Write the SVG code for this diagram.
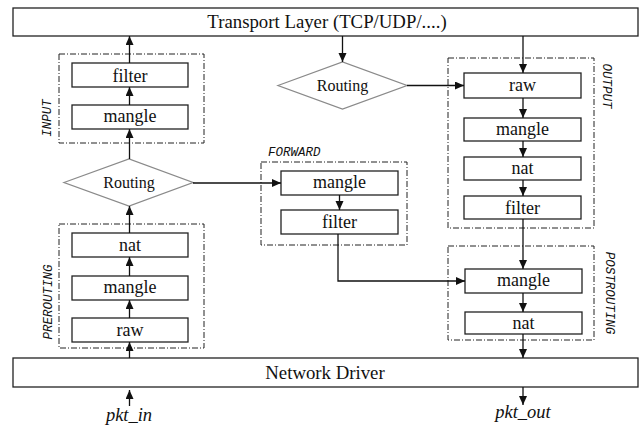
<svg xmlns="http://www.w3.org/2000/svg" width="641" height="427" viewBox="0 0 641 427">
<style>
.bar{fill:#fff;stroke:#222;stroke-width:1.3}
.box{fill:#fff;stroke:#222;stroke-width:1.3}
.grp{fill:none;stroke:#222;stroke-width:1;stroke-dasharray:6 2 1 2}
.dia{fill:#fff;stroke:#8a8a8a;stroke-width:1.3}
.t{font-family:'Liberation Serif','DejaVu Serif',serif;font-size:18px;fill:#111;text-anchor:middle}
.big{font-size:18.8px}
.rt{font-size:16px}
.it{font-style:italic;font-size:18.5px}
.lab{font-family:'Liberation Mono','DejaVu Sans Mono',monospace;font-style:italic;font-size:12.5px;fill:#111}
.c{fill:none;stroke:#111;stroke-width:1.3}
</style>
<defs>
<marker id="ah" markerUnits="userSpaceOnUse" markerWidth="10" markerHeight="10" refX="9" refY="4" orient="auto">
<path d="M0,0 L9,4 L0,8 z" fill="#111"/>
</marker>
</defs>
<rect width="641" height="427" fill="#fff"/>

<g id="transport"><rect class="bar" x="13" y="8" width="625" height="28"/><text class="t big" x="327" y="28">Transport Layer (TCP/UDP/....)</text></g>
<g id="network"><rect class="bar" x="13" y="358" width="625" height="29"/><text class="t big" x="325" y="379">Network Driver</text></g>

<g id="input"><rect class="grp" x="59" y="54" width="145" height="89"/><text class="lab" transform="translate(51,118) rotate(-90)" text-anchor="middle">INPUT</text></g>
<g id="input-filter"><rect class="box" x="72" y="63" width="116" height="24"/><text class="t" x="130" y="81.5">filter</text></g>
<g id="input-mangle"><rect class="box" x="72" y="105" width="116" height="24"/><text class="t" x="130" y="122">mangle</text></g>

<g id="routing1"><polygon class="dia" points="64,182.5 129,159 193,182.5 129,206"/><text class="t rt" x="129" y="188">Routing</text></g>

<g id="prerouting"><rect class="grp" x="59" y="224" width="145" height="124"/><text class="lab" transform="translate(52,302) rotate(-90)" text-anchor="middle">PREROUTING</text></g>
<g id="pre-nat"><rect class="box" x="72" y="233" width="116" height="24"/><text class="t" x="130" y="251">nat</text></g>
<g id="pre-mangle"><rect class="box" x="72" y="276" width="116" height="24"/><text class="t" x="130" y="293">mangle</text></g>
<g id="pre-raw"><rect class="box" x="72" y="318" width="116" height="24"/><text class="t" x="130" y="336">raw</text></g>

<g id="forward"><rect class="grp" x="261" y="162" width="146" height="83"/><text class="lab" x="268" y="156">FORWARD</text></g>
<g id="fwd-mangle"><rect class="box" x="281" y="171" width="117" height="24"/><text class="t" x="339.5" y="188">mangle</text></g>
<g id="fwd-filter"><rect class="box" x="281" y="210" width="117" height="24"/><text class="t" x="339.5" y="228">filter</text></g>

<g id="routing2"><polygon class="dia" points="278,85.5 342.5,62 407,85.5 342.5,109"/><text class="t rt" x="342.5" y="91">Routing</text></g>

<g id="output"><rect class="grp" x="448" y="58" width="146" height="170"/><text class="lab" transform="translate(603,86) rotate(90)" text-anchor="middle">OUTPUT</text></g>
<g id="out-raw"><rect class="box" x="464" y="73" width="117" height="25"/><text class="t" x="522.5" y="91">raw</text></g>
<g id="out-mangle"><rect class="box" x="464" y="118" width="117" height="23"/><text class="t" x="522.5" y="135">mangle</text></g>
<g id="out-nat"><rect class="box" x="464" y="157" width="117" height="23"/><text class="t" x="522.5" y="174">nat</text></g>
<g id="out-filter"><rect class="box" x="464" y="196" width="117" height="23"/><text class="t" x="522.5" y="213.5">filter</text></g>

<g id="postrouting"><rect class="grp" x="448" y="246" width="146" height="94"/><text class="lab" transform="translate(606,293) rotate(90)" text-anchor="middle">POSTROUTING</text></g>
<g id="post-mangle"><rect class="box" x="465" y="269" width="117" height="24"/><text class="t" x="523.5" y="286">mangle</text></g>
<g id="post-nat"><rect class="box" x="465" y="312" width="117" height="22"/><text class="t" x="523.5" y="328.5">nat</text></g>

<g id="pkt-in"><text class="t it" x="129" y="421">pkt_in</text></g>
<g id="pkt-out"><text class="t it" x="523" y="418">pkt_out</text></g>

<g id="connectors">
<path class="c" marker-end="url(#ah)" d="M129.5,63 L129.5,36"/>
<path class="c" marker-end="url(#ah)" d="M129.5,105 L129.5,87"/>
<path class="c" marker-end="url(#ah)" d="M129.5,159 L129.5,129"/>
<path class="c" marker-end="url(#ah)" d="M129.5,233 L129.5,206"/>
<path class="c" marker-end="url(#ah)" d="M129.5,276 L129.5,257"/>
<path class="c" marker-end="url(#ah)" d="M129.5,318 L129.5,300"/>
<path class="c" marker-end="url(#ah)" d="M129.5,358 L129.5,342"/>
<path class="c" marker-end="url(#ah)" d="M129.5,406 L129.5,390"/>
<path class="c" marker-end="url(#ah)" d="M193,183 L281,183"/>
<path class="c" marker-end="url(#ah)" d="M339.5,195 L339.5,210"/>
<path class="c" marker-end="url(#ah)" d="M338,234 L338,281 L465,281"/>
<path class="c" marker-end="url(#ah)" d="M342.5,36 L342.5,62"/>
<path class="c" marker-end="url(#ah)" d="M407,85.5 L464,85.5"/>
<path class="c" marker-end="url(#ah)" d="M523,36 L523,73"/>
<path class="c" marker-end="url(#ah)" d="M523,98 L523,118"/>
<path class="c" marker-end="url(#ah)" d="M523,141 L523,157"/>
<path class="c" marker-end="url(#ah)" d="M523,180 L523,196"/>
<path class="c" marker-end="url(#ah)" d="M523,219 L523,269"/>
<path class="c" marker-end="url(#ah)" d="M523,293 L523,312"/>
<path class="c" marker-end="url(#ah)" d="M523,334 L523,358"/>
<path class="c" marker-end="url(#ah)" d="M523,387 L523,405"/>
</g>
</svg>
